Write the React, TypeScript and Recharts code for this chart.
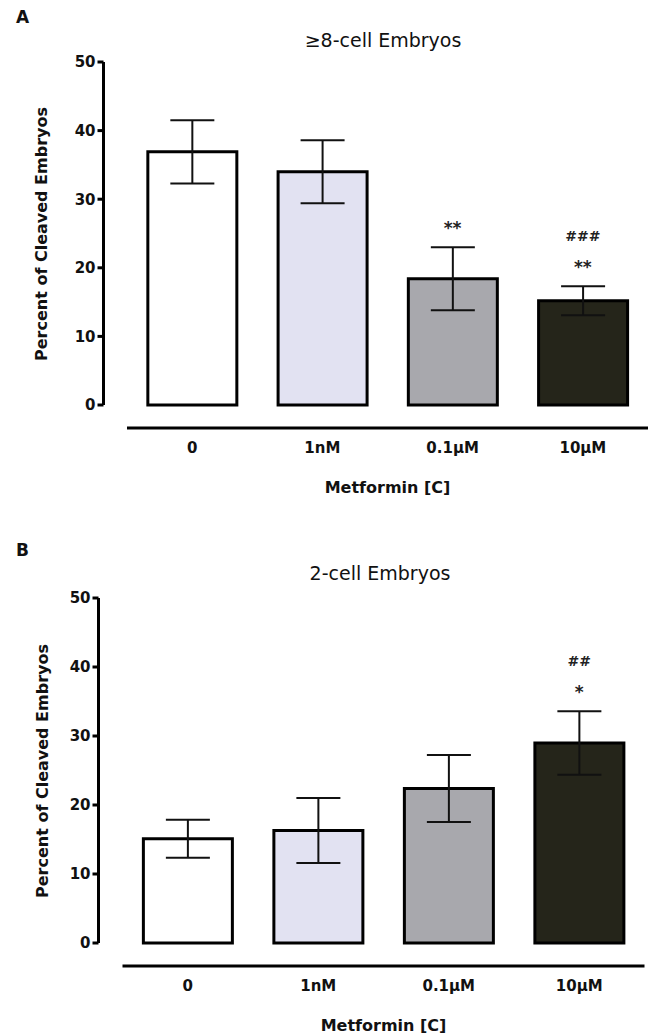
import React from "react";
import { ComposedChart, Bar, Line, XAxis, YAxis, ErrorBar, Cell } from "recharts";

const categories = ["0", "1nM", "0.1μM", "10μM"];
const yTicks = [0, 10, 20, 30, 40, 50];
const barColors = ["#ffffff", "#e2e2f2", "#a8a8ad", "#25251a"];

// panel A: >=8-cell embryos
const eightCellMean = [36.9, 34.0, 18.4, 15.2];
const eightCellSem = [4.6, 4.6, 4.6, 2.1];
const eightCellStars = ["", "", "**", "**"];
const eightCellHashes = ["", "", "", "###"];

// panel B: 2-cell embryos
const twoCellMean = [15.1, 16.3, 22.4, 29.0];
const twoCellSem = [2.75, 4.7, 4.85, 4.6];
const twoCellStars = ["", "", "", "*"];
const twoCellHashes = ["", "", "", "##"];

const FONT = "'DejaVu Sans', Verdana, sans-serif";

function buildRows(mean: number[], sem: number[], stars: string[], hashes: string[]) {
  return categories.map((name, i) => ({
    name,
    mean: mean[i],
    sem: sem[i],
    top: mean[i] + sem[i],
    stars: stars[i],
    hashes: hashes[i],
  }));
}

// significance marks sit above the top of each error bar
function SigMark(props: any) {
  const { cx, cy, payload, index } = props;
  if (cx == null || cy == null) return <g key={`sig-${index}`} />;
  return (
    <g key={`sig-${index}`}>
      <text x={cx} y={cy - 45} textAnchor="middle" fontSize={14} fontWeight="bold" fontFamily={FONT} fill="#222">
        {payload.hashes}
      </text>
      <text x={cx} y={cy - 13} textAnchor="middle" fontSize={17} fontWeight="bold" fontFamily={FONT} fill="#222">
        {payload.stars}
      </text>
    </g>
  );
}

type PanelProps = {
  top: number;
  height: number;
  letter: string;
  title: string;
  titleX: number;
  titleY: number;
  labelX: number;
  rows: ReturnType<typeof buildRows>;
  plotTop: number;
  axisWidth: number;
  gapLeft: number;
  rightMargin: number;
};

function Panel(p: PanelProps) {
  const plotBottom = p.height - 23 - 70;
  const labelY = p.top + (p.plotTop + plotBottom) / 2;
  return (
    <>
      <div style={{ position: "absolute", left: 16, top: p.top + p.titleY - 31, fontFamily: FONT, fontWeight: "bold", fontSize: 17, lineHeight: "17px" }}>
        {p.letter}
      </div>
      <div
        style={{
          position: "absolute",
          left: p.titleX,
          top: p.top + p.titleY,
          transform: "translate(-50%, -50%)",
          fontFamily: FONT,
          fontSize: 19,
          lineHeight: "19px",
          whiteSpace: "nowrap",
        }}
      >
        {p.title}
      </div>
      <div
        style={{
          position: "absolute",
          left: p.labelX,
          top: labelY,
          transform: "translate(-50%, -50%) rotate(-90deg)",
          fontFamily: FONT,
          fontWeight: "bold",
          fontSize: 16,
          lineHeight: "16px",
          whiteSpace: "nowrap",
          color: "#111",
        }}
      >
        Percent of Cleaved Embryos
      </div>
      <div style={{ position: "absolute", left: 0, top: p.top }}>
        <ComposedChart
          width={649}
          height={p.height}
          data={p.rows}
          margin={{ top: p.plotTop, right: p.rightMargin, bottom: 0, left: 0 }}
          barCategoryGap="16%"
        >
          <XAxis xAxisId="gap" height={23} axisLine={false} tickLine={false} tick={false} />
          <XAxis
            xAxisId="main"
            dataKey="name"
            height={70}
            axisLine={{ stroke: "#000", strokeWidth: 3 }}
            tickLine={false}
            tickMargin={8}
            tick={{ fill: "#111", fontSize: 15, fontWeight: "bold", fontFamily: FONT }}
            label={{
              value: "Metformin [C]",
              position: "insideBottom",
              offset: 5.5,
              fill: "#111",
              fontSize: 16,
              fontWeight: "bold",
              fontFamily: FONT,
            }}
          />
          <YAxis yAxisId="gap" width={p.gapLeft} axisLine={false} tickLine={false} tick={false} />
          <YAxis
            yAxisId="main"
            width={p.axisWidth}
            domain={[0, 50]}
            ticks={yTicks}
            interval={0}
            axisLine={{ stroke: "#000", strokeWidth: 3 }}
            tickLine={{ stroke: "#000", strokeWidth: 3 }}
            tickSize={6}
            tickMargin={2}
            tick={{ fill: "#111", fontSize: 15, fontWeight: "bold", fontFamily: FONT }}
          />
          <Bar
            xAxisId="main"
            yAxisId="main"
            dataKey="mean"
            stroke="#000"
            strokeWidth={3}
            isAnimationActive={false}
          >
            {p.rows.map((r, i) => (
              <Cell key={`cell-${r.name}`} fill={barColors[i]} />
            ))}
            <ErrorBar dataKey="sem" direction="y" width={22} stroke="#111" strokeWidth={2} isAnimationActive={false} />
          </Bar>
          <Line
            xAxisId="main"
            yAxisId="main"
            dataKey="top"
            stroke="none"
            dot={SigMark}
            activeDot={false}
            isAnimationActive={false}
          />
        </ComposedChart>
      </div>
    </>
  );
}

export default function App() {
  const rowsA = buildRows(eightCellMean, eightCellSem, eightCellStars, eightCellHashes);
  const rowsB = buildRows(twoCellMean, twoCellSem, twoCellStars, twoCellHashes);
  return (
    <div style={{ position: "absolute", left: 0, top: 0, width: 649, height: 1035, overflow: "hidden", background: "#fff", color: "#111" }}>
      <Panel
        top={0}
        height={498}
        letter="A"
        title="≥8-cell Embryos"
        titleX={383}
        titleY={40}
        labelX={42}
        rows={rowsA}
        plotTop={62}
        axisWidth={103.5}
        gapLeft={23.5}
        rightMargin={1}
      />
      <Panel
        top={520}
        height={516}
        letter="B"
        title="2-cell Embryos"
        titleX={380}
        titleY={53}
        labelX={43}
        rows={rowsB}
        plotTop={78}
        axisWidth={98.5}
        gapLeft={24}
        rightMargin={4.5}
      />
    </div>
  );
}
